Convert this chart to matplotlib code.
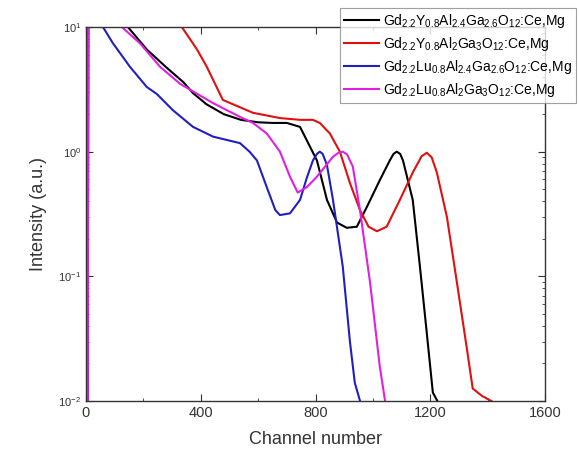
import matplotlib
matplotlib.use("Agg")
import matplotlib.pyplot as plt
from matplotlib.ticker import LogLocator, MultipleLocator, NullFormatter

plt.rcParams['font.family'] = ['Liberation Sans', 'DejaVu Sans']
plt.rcParams['mathtext.fontset'] = 'custom'
plt.rcParams['mathtext.rm'] = 'Liberation Sans'
plt.rcParams['mathtext.it'] = 'Liberation Sans:italic'
plt.rcParams['mathtext.bf'] = 'Liberation Sans:bold'

# Data (channel, intensity)
black_ch = [6, 8, 60, 146, 212, 282, 340, 373, 420, 480, 540, 600, 650, 700, 746,
            805, 840, 875, 909, 944, 979, 1024, 1059, 1072, 1083, 1095, 1105, 1139, 1164, 1188, 1209, 1230]
black_I = [0.005, 50, 30, 10, 6.6, 4.7, 3.6, 2.95, 2.4, 2.0, 1.8, 1.72, 1.7, 1.7, 1.58,
           0.85, 0.41, 0.27, 0.245, 0.25, 0.36, 0.59, 0.85, 0.96, 1.0, 0.96, 0.85, 0.41, 0.12, 0.035, 0.0117, 0.0095]

red_ch = [6, 8, 200, 334, 387, 421, 477, 582, 676, 746, 791, 815, 850, 885, 920, 955,
          985, 1014, 1048, 1094, 1139, 1170, 1188, 1205, 1223, 1258, 1293, 1328, 1348, 1380, 1430]
red_I = [0.005, 50, 25, 10, 6.6, 4.8, 2.6, 2.05, 1.86, 1.8, 1.8, 1.7, 1.4, 1.0, 0.56, 0.34,
         0.25, 0.23, 0.25, 0.41, 0.68, 0.92, 0.98, 0.9, 0.68, 0.3, 0.089, 0.026, 0.0126, 0.011, 0.0095]

blue_ch = [6, 8, 35, 59, 94, 153, 212, 247, 303, 373, 443, 537, 570, 596, 630, 660, 676,
           711, 746, 770, 791, 805, 815, 825, 840, 861, 895, 920, 937, 958]
blue_I = [0.005, 50, 20, 10, 7.4, 4.8, 3.3, 2.9, 2.15, 1.58, 1.32, 1.17, 1.0, 0.85, 0.52,
          0.34, 0.31, 0.32, 0.41, 0.62, 0.85, 0.96, 1.0, 0.96, 0.78, 0.41, 0.12, 0.03, 0.014, 0.0095]

mag_ch = [6, 8, 90, 125, 188, 258, 328, 443, 537, 582, 630, 676, 711, 738, 770, 805, 861,
          880, 895, 910, 930, 955, 990, 1024, 1044]
mag_I = [0.005, 50, 20, 10, 7.4, 4.8, 3.5, 2.45, 1.9, 1.7, 1.4, 1.0, 0.63, 0.47, 0.52, 0.63,
         0.91, 0.98, 1.0, 0.95, 0.76, 0.34, 0.09, 0.019, 0.0095]

labels = [
    r"Gd$_{2.2}$Y$_{0.8}$Al$_{2.4}$Ga$_{2.6}$O$_{12}$:Ce,Mg",
    r"Gd$_{2.2}$Y$_{0.8}$Al$_{2}$Ga$_{3}$O$_{12}$:Ce,Mg",
    r"Gd$_{2.2}$Lu$_{0.8}$Al$_{2.4}$Ga$_{2.6}$O$_{12}$:Ce,Mg",
    r"Gd$_{2.2}$Lu$_{0.8}$Al$_{2}$Ga$_{3}$O$_{12}$:Ce,Mg",
]
colors = ["#000000", "#e01010", "#2020c0", "#e020e0"]

fig = plt.figure(figsize=(5.79, 4.59), dpi=100)
ax = fig.add_axes([86/579, 1-401/459, (545-86)/579, (401-27)/459])

series = [(black_ch, black_I), (red_ch, red_I), (blue_ch, blue_I), (mag_ch, mag_I)]
for (x, y), c, lab in zip(series, colors, labels):
    ax.plot(x, y, color=c, lw=1.5, label=lab)

ax.set_yscale("log")
ax.set_xlim(0, 1600)
ax.set_ylim(0.01, 10)
ax.xaxis.set_major_locator(MultipleLocator(400))
ax.xaxis.set_minor_locator(MultipleLocator(200))
ax.yaxis.set_major_locator(LogLocator(base=10, numticks=10))
ax.yaxis.set_minor_locator(LogLocator(base=10, subs=range(2, 10), numticks=10))
ax.yaxis.set_minor_formatter(NullFormatter())
ax.tick_params(which="both", direction="in", top=True, right=True, colors="#333333")
ax.tick_params(which="major", length=5)
ax.tick_params(which="minor", length=2.5)
ax.tick_params(axis="x", labelsize=10.5)
ax.tick_params(axis="y", labelsize=8)
for s in ax.spines.values():
    s.set_color("#333333")
    s.set_linewidth(1.0)

ax.set_xlabel("Channel number", fontsize=13, color="#333333", labelpad=8)
ax.set_ylabel("Intensity (a.u.)", fontsize=13, color="#333333", labelpad=8)

leg = ax.legend(loc="upper left", bbox_to_anchor=(340/579, 1-8/459),
                bbox_transform=fig.transFigure, fontsize=10, frameon=True,
                fancybox=False, edgecolor="#888888", handlelength=2.5,
                borderaxespad=0, labelspacing=0.35, borderpad=0.3, handletextpad=0.3)
leg.get_frame().set_linewidth(0.8)

fig.savefig("out.png", dpi=100)
